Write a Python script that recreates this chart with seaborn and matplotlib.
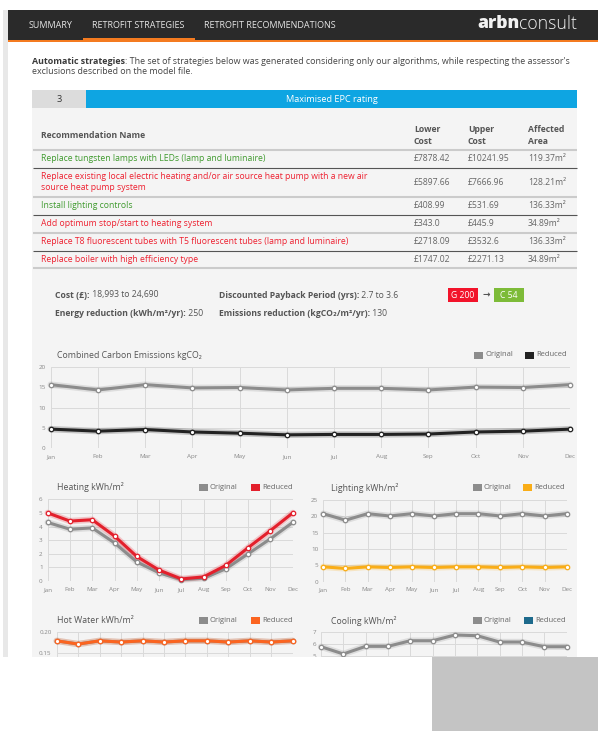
import numpy as np
import pandas as pd
import matplotlib
matplotlib.use("Agg")
import matplotlib.pyplot as plt
import seaborn as sns
from matplotlib.patches import Rectangle

# ---------------- data ----------------
months = ["Jan", "Feb", "Mar", "Apr", "May", "Jun", "Jul", "Aug", "Sep", "Oct", "Nov", "Dec"]

carbon_original = [15.6, 14.3, 15.6, 14.8, 14.9, 14.3, 14.7, 14.7, 14.3, 15.0, 14.9, 15.6]
carbon_reduced = [4.7, 4.2, 4.6, 4.0, 3.7, 3.3, 3.4, 3.4, 3.5, 4.0, 4.2, 4.7]

heating_original = [4.3, 3.8, 3.9, 2.8, 1.4, 0.6, 0.1, 0.2, 0.9, 2.0, 3.1, 4.3]
heating_reduced = [5.0, 4.4, 4.5, 3.3, 1.8, 0.8, 0.15, 0.3, 1.15, 2.45, 3.7, 5.0]

lighting_original = [20.8, 18.8, 20.8, 20.1, 20.8, 20.1, 20.8, 20.8, 20.1, 20.8, 20.1, 20.8]
lighting_reduced = [4.5, 4.0, 4.5, 4.3, 4.5, 4.3, 4.5, 4.5, 4.3, 4.5, 4.3, 4.5]

hotwater_original = [0.179, 0.171, 0.179, 0.176, 0.179, 0.176, 0.179, 0.179, 0.176, 0.179, 0.176, 0.179]
hotwater_reduced = [0.179, 0.171, 0.179, 0.176, 0.179, 0.176, 0.179, 0.179, 0.176, 0.179, 0.176, 0.179]

cooling_original = [5.77, 5.15, 5.8, 5.8, 6.28, 6.28, 6.77, 6.71, 6.17, 6.17, 5.77, 5.77]

rec_names = [
    ["Replace tungsten lamps with LEDs (lamp and luminaire)"],
    ["Replace existing local electric heating and/or air source heat pump with a new air",
     "source heat pump system"],
    ["Install lighting controls"],
    ["Add optimum stop/start to heating system"],
    ["Replace T8 fluorescent tubes with T5 fluorescent tubes (lamp and luminaire)"],
    ["Replace boiler with high efficiency type"],
]
rec_status = ["green", "red", "green", "red", "red", "red"]
lower_cost = ["£7878.42", "£5897.66", "£408.99", "£343.0", "£2718.09", "£1747.02"]
upper_cost = ["£10241.95", "£7666.96", "£531.69", "£445.9", "£3532.6", "£2271.13"]
affected_area = ["119.37m²", "128.21m²", "136.33m²", "34.89m²", "136.33m²", "34.89m²"]

tabs = ["SUMMARY", "RETROFIT STRATEGIES", "RETROFIT RECOMMENDATIONS"]

# ---------------- style ----------------
sns.set_theme(style="white")
plt.rcParams["font.family"] = ["Open Sans", "DejaVu Sans"]

W, H = 598, 731
fig = plt.figure(figsize=(W / 100, H / 100), dpi=100)
fig.patch.set_facecolor("white")
bg = fig.add_axes([0, 0, 1, 1], zorder=0)
bg.set_xlim(0, W)
bg.set_ylim(H, 0)
bg.axis("off")
renderer = fig.canvas.get_renderer()

GREY_LINE = "#8c8c8c"
PANEL = "#f4f4f4"
BODY = 6.4
TABLE = 6.2


def rect(x0, y0, x1, y1, color, ax=bg, **kw):
    ax.add_patch(Rectangle((x0, y0), x1 - x0, y1 - y0, facecolor=color,
                           edgecolor="none", **kw))


def txt(x, y, s, size, color="#444", weight="normal", ha="left", **kw):
    return bg.text(x, y, s, fontsize=size, color=color, fontweight=weight,
                   ha=ha, va="center", **kw)


def runs(x, y, parts, size):
    for s, weight, color in parts:
        t = txt(x, y, s, size, color=color, weight=weight)
        x += t.get_window_extent(renderer).width


# ---------------- page chrome ----------------
rect(3, 10, 7.5, 657, "#e8e8e8")
rect(7.5, 10, W, 40, "#2a2a2a")
rect(7.5, 40, W, 42, "#f47b20")
rect(83, 38, 195, 42, "#f47b20")
tab_x = [29, 92, 204]
for tx, name in zip(tab_x, tabs):
    txt(tx, 26, name, 6.5, color="#e6e6e6")
runs(477, 24, [("arbn", "heavy", "#f2f2f2"), ("consult", "light", "#f2f2f2")], 12.7)

runs(32, 61.5, [("Automatic strategies", "bold", "#3a3a3a"),
                (": The set of strategies below was generated considering only our algorithms, "
                 "while respecting the assessor's", "normal", "#444")], BODY)
txt(32, 71.5, "exclusions described on the model file.", BODY, color="#444")

# panel
rect(32, 108, 577, 657, PANEL)
rect(32, 90, 86, 108, "#dcdcdc")
rect(86, 90, 577, 108, "#0ea5e2")
txt(59, 99, "3", 6.6, color="#333", ha="center")
txt(331.5, 99, "Maximised EPC rating", 6.6, color="white", ha="center")

# table header
txt(41, 135.5, "Recommendation Name", TABLE, color="#555", weight="bold")
for hx, (a, b) in zip([414, 468, 528], [("Lower", "Cost"), ("Upper", "Cost"), ("Affected", "Area")]):
    txt(hx, 130, a, TABLE, color="#555", weight="bold")
    txt(hx, 141, b, TABLE, color="#555", weight="bold")

row_y = [158.5, 182.5, 206, 223.7, 241.7, 259.3]
line_specs = [(150, "light"), (167.7, "dark"), (197.3, "light"), (215, "dark"),
              (232.7, "light"), (250.7, "dark"), (268.3, "light")]
for ly, kind in line_specs:
    if kind == "light":
        bg.plot([33, 577], [ly, ly], color="#cbcbcb", lw=1.5, solid_capstyle="butt")
    else:
        bg.plot([33, 577], [ly, ly], color="#555", lw=0.8, solid_capstyle="butt")

status_color = {"green": "#3f9a2e", "red": "#ee2030"}
for i, (names, st) in enumerate(zip(rec_names, rec_status)):
    c = status_color[st]
    if len(names) == 1:
        txt(41, row_y[i], names[0], TABLE, color=c)
    else:
        txt(41, row_y[i] - 5.7, names[0], TABLE, color=c)
        txt(41, row_y[i] + 5.3, names[1], TABLE, color=c)
    txt(414, row_y[i], lower_cost[i], TABLE, color="#666")
    txt(468, row_y[i], upper_cost[i], TABLE, color="#666")
    txt(528, row_y[i], affected_area[i], TABLE, color="#666")

# summary
runs(55, 295, [("Cost (£):", "bold", "#555"), (" 18,993 to 24,690", "normal", "#555")], 6.2)
runs(55, 314, [("Energy reduction (kWh/m²/yr):", "bold", "#555"), (" 250", "normal", "#555")], 6.2)
runs(219, 295, [("Discounted Payback Period (yrs):", "bold", "#555"), (" 2.7 to 3.6", "normal", "#555")], 6.2)
runs(219, 314, [("Emissions reduction (kgCO₂/m²/yr):", "bold", "#555"), (" 130", "normal", "#555")], 6.2)
rect(448, 288, 478, 302, "#f2132a")
txt(463, 295, "G 200", 6.2, color="white", ha="center")
txt(486.5, 295, "→", 6.5, color="#555", ha="center", weight="bold")
rect(494, 288, 524, 302, "#7dbb38")
txt(509, 295, "C 54", 6.2, color="white", ha="center")


# ---------------- charts ----------------
def legend(x_orig, x_red, y, red_color):
    rect(x_orig, y - 3.5, x_orig + 9, y + 3.5, GREY_LINE)
    txt(x_orig + 11, y, "Original", 5.5, color="#666")
    rect(x_red, y - 3.5, x_red + 9, y + 3.5, red_color)
    txt(x_red + 11, y, "Reduced", 5.5, color="#666")


def chart(box, ylim, yticks, ylabels, series):
    x0, y0, x1, y1 = box
    ax = fig.add_axes([x0 / W, 1 - y1 / H, (x1 - x0) / W, (y1 - y0) / H], zorder=2)
    ax.set_facecolor("none")
    for vals, color in series:
        df = pd.DataFrame({"m": np.arange(len(months)), "v": vals})
        sns.lineplot(data=df, x="m", y="v", ax=ax, color=color, lw=4.6, alpha=0.22,
                     clip_on=False, zorder=3)
        sns.lineplot(data=df, x="m", y="v", ax=ax, color=color, lw=2.2, marker="o",
                     markersize=3.2, markerfacecolor="white", markeredgecolor=color,
                     markeredgewidth=0.9, clip_on=False, zorder=4)
    ax.set_xlim(0, len(months) - 1)
    ax.set_ylim(*ylim)
    ax.set_xticks(np.arange(len(months)))
    ax.set_xticklabels(months)
    ax.set_yticks(yticks)
    ax.set_yticklabels(ylabels)
    ax.grid(True, color="#dadada", lw=0.7)
    for s in ax.spines.values():
        s.set_visible(False)
    ax.tick_params(axis="y", length=2.5, width=0.7, color="#dadada", pad=1.2,
                   labelsize=4.5, labelcolor="#888")
    ax.tick_params(axis="x", length=0, pad=4.3, labelsize=4.5, labelcolor="#888")
    ax.set_xlabel("")
    ax.set_ylabel("")
    return ax


TITLE = 6.3
# combined carbon
txt(57, 355, "Combined Carbon Emissions kgCO₂", TITLE, color="#555")
legend(474, 525, 355, "#222222")
chart((50.7, 366.7, 570, 448.3), (0, 20), [0, 5, 10, 15, 20], ["0", "5", "10", "15", "20"],
      [(carbon_original, GREY_LINE), (carbon_reduced, "#222222")])

# heating
txt(57, 487.3, "Heating kWh/m²", TITLE, color="#555")
legend(199, 251, 487.3, "#e3202c")
chart((47.7, 499.3, 292.7, 581), (0, 6), list(range(7)), [str(v) for v in range(7)],
      [(heating_original, GREY_LINE), (heating_reduced, "#e3202c")])

# lighting
txt(331, 487.7, "Lighting kWh/m²", TITLE, color="#555")
legend(473, 523, 487.7, "#f9ad17")
chart((323.3, 500, 566.7, 581.5), (0, 25), [0, 5, 10, 15, 20, 25],
      ["0", "5", "10", "15", "20", "25"],
      [(lighting_original, GREY_LINE), (lighting_reduced, "#f9ad17")])

# hot water
txt(57, 620.7, "Hot Water kWh/m²", TITLE, color="#555")
legend(199, 251, 620.7, "#fb6420")
chart((56.7, 632.3, 292.7, 713.5), (0, 0.20), [0, 0.05, 0.10, 0.15, 0.20],
      ["0.00", "0.05", "0.10", "0.15", "0.20"],
      [(hotwater_original, GREY_LINE), (hotwater_reduced, "#fb6420")])

# cooling
txt(331, 620.7, "Cooling kWh/m²", TITLE, color="#555")
legend(473, 524, 620.7, "#1d6a8c")
chart((321, 632.3, 566.5, 714.3), (0, 7), list(range(8)), [str(v) for v in range(8)],
      [(cooling_original, GREY_LINE)])

# ---------------- bottom crop of screenshot ----------------
top = fig.add_axes([0, 0, 1, 1], zorder=10)
top.set_xlim(0, W)
top.set_ylim(H, 0)
top.axis("off")
top.patch.set_alpha(0)
rect(0, 657, W, H, "white", ax=top)
rect(432, 657, W, H, "#c4c4c4", ax=top)

fig.savefig("out.png", dpi=100, facecolor="white")
